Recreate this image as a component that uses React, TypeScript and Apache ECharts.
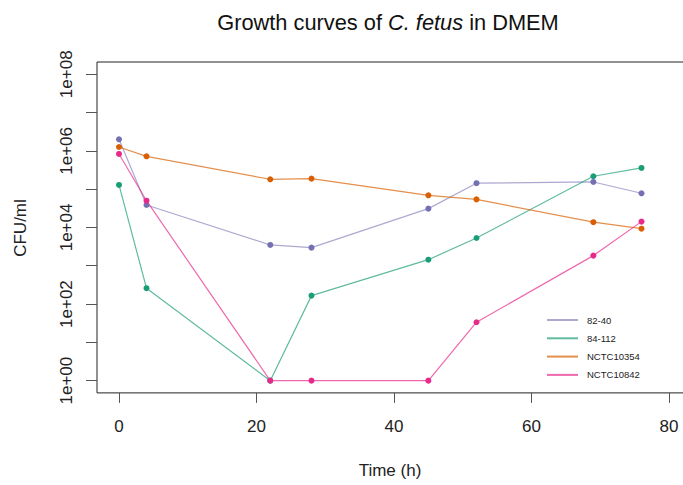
import React, { useEffect, useRef } from "react";
import * as echarts from "echarts";

const times = [0, 4, 22, 28, 45, 52, 69, 76];
const seriesNames = ["82-40", "84-112", "NCTC10354", "NCTC10842"];
const cfu8240 = [2.0e6, 3.86e4, 3.49e3, 2.97e3, 3.1e4, 1.43e5, 1.54e5, 7.8e4];
const cfu84112 = [1.29e5, 259, 1, 166, 1.44e3, 5.3e3, 2.17e5, 3.58e5];
const cfuNCTC10354 = [1.26e6, 7.2e5, 1.81e5, 1.88e5, 6.9e4, 5.4e4, 1.37e4, 9.3e3];
const cfuNCTC10842 = [8.3e5, 5.0e4, 1, 1, 1, 33.5, 1.84e3, 1.42e4];
const pointColors = ["#7570B3", "#1B9E77", "#D95F02", "#E7298A"];
const lineColors = [
  "rgba(117,112,179,0.6)",
  "rgba(27,158,119,0.7)",
  "rgba(217,95,2,0.7)",
  "rgba(231,41,138,0.7)",
];
const xTicks = [0, 20, 40, 60, 80];
const yTicks = [0, 1, 2, 3, 4, 5, 6, 7, 8];
const yLabelTicks = [0, 2, 4, 6, 8];

const FONT = "'Liberation Sans', Arial, sans-serif";

export default function App() {
  const ref = useRef<HTMLDivElement>(null);
  useEffect(() => {
    if (!ref.current) return;
    const chart = echarts.init(ref.current, null, { renderer: "svg" });
    const allData = [cfu8240, cfu84112, cfuNCTC10354, cfuNCTC10842];
    const series = seriesNames.map((name, i) => ({
      name,
      type: "line",
      data: times.map((t, j) => [t, Math.log10(allData[i][j])]),
      symbol: "circle",
      symbolSize: 6,
      showSymbol: true,
      lineStyle: { color: lineColors[i], width: 1.2 },
      itemStyle: { color: pointColors[i] },
      emphasis: { disabled: true },
    }));
    chart.setOption({
      animation: false,
      textStyle: { fontFamily: FONT },
      title: {
        text: "{n|Growth curves of }{i|C. fetus}{n| in DMEM}",
        left: 383,
        textAlign: "center",
        top: 6,
        textStyle: {
          fontWeight: "normal",
          rich: {
            n: { fontSize: 21.8, color: "#111", fontFamily: FONT, fontWeight: "normal" },
            i: { fontSize: 21.8, color: "#111", fontFamily: FONT, fontStyle: "italic", fontWeight: "normal" },
          },
        },
      },
      legend: {
        orient: "vertical",
        left: 542,
        top: 309,
        icon: "rect",
        itemWidth: 31,
        itemHeight: 2,
        itemGap: 6.3,
        textStyle: { fontSize: 9.5, color: "#222", lineHeight: 12, padding: [0, 0, 0, 4], fontFamily: FONT },
        data: seriesNames.map((n, i) => ({ name: n, itemStyle: { color: lineColors[i] } })),
      },
      grid: {
        left: 97,
        top: 62,
        width: 594,
        height: 330.9,
        show: true,
        borderColor: "#222",
        borderWidth: 1,
        backgroundColor: "transparent",
        outerBoundsMode: "none",
        containLabel: false,
      },
      xAxis: {
        type: "value",
        min: -3.2,
        max: 83.2,
        axisLine: { show: false, onZero: false },
        splitLine: { show: false },
        axisTick: { show: true, inside: false, customValues: xTicks, length: 10, lineStyle: { color: "#555" } },
        axisLabel: { customValues: xTicks, margin: 25, fontSize: 17, color: "#222", fontFamily: FONT },
      },
      yAxis: {
        type: "value",
        min: -0.32,
        max: 8.32,
        axisLine: { show: false, onZero: false },
        splitLine: { show: false },
        axisTick: { show: true, inside: false, customValues: yTicks, length: 11, lineStyle: { color: "#555" } },
        axisLabel: {
          customValues: yLabelTicks,
          rotate: 90,
          margin: 22,
          fontSize: 17,
          color: "#222",
          fontFamily: FONT,
          formatter: (v: number) => `1e+${String(Math.round(v)).padStart(2, "0")}`,
        },
      },
      graphic: [
        {
          type: "text",
          x: 20,
          y: 228,
          rotation: Math.PI / 2,
          style: {
            text: "CFU/ml",
            fontSize: 17,
            fill: "#222",
            fontFamily: FONT,
            textAlign: "center",
            textVerticalAlign: "middle",
          },
        },
        {
          type: "text",
          x: 390,
          y: 470,
          style: {
            text: "Time (h)",
            fontSize: 17,
            fill: "#222",
            fontFamily: FONT,
            textAlign: "center",
            textVerticalAlign: "middle",
          },
        },
      ],
      series,
    });
    return () => chart.dispose();
  }, []);
  return (
    <div
      ref={ref}
      style={{ position: "fixed", left: 0, top: 0, width: 683, height: 485, background: "#fff" }}
    />
  );
}
